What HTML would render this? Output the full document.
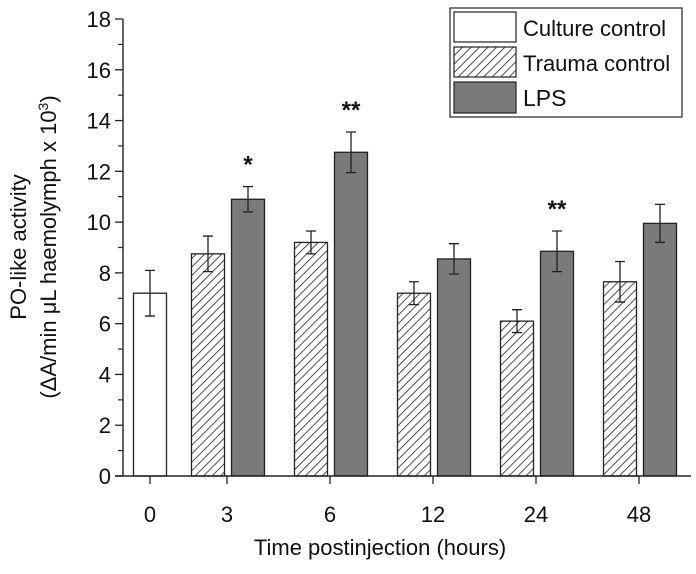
<!DOCTYPE html>
<html><head><meta charset="utf-8"><style>
body{margin:0;background:#fff}
svg text{font-family:"Liberation Sans",Arial,sans-serif;fill:#111}
</style></head><body>
<svg width="696" height="569" viewBox="0 0 696 569">
<defs>
<pattern id="hatch" patternUnits="userSpaceOnUse" width="6" height="6" patternTransform="rotate(45)">
<rect width="6" height="6" fill="#fff"/><line x1="0" y1="0" x2="0" y2="6" stroke="#222" stroke-width="1.6"/>
</pattern>
</defs>
<g id="plot"></g>
<g>
<rect x="450" y="8" width="232" height="109" fill="#fff" stroke="#222" stroke-width="1.2"/>
<g><rect x="454" y="12" width="62" height="30" fill="#fff" stroke="#222" stroke-width="1.2"/><text x="523" y="36" font-size="22">Culture control</text></g>
<g><rect x="454" y="47" width="62" height="30" fill="url(#hatch)" stroke="#222" stroke-width="1.2"/><text x="523" y="71" font-size="22">Trauma control</text></g>
<g><rect x="454" y="82" width="62" height="31" fill="#7a7a7a" stroke="#222" stroke-width="1.2"/><text x="523" y="106" font-size="23">LPS</text></g>
</g>
<text x="380" y="555" font-size="22" text-anchor="middle">Time postinjection (hours)</text>
<text transform="translate(26,247) rotate(-90)" font-size="22" text-anchor="middle">PO-like activity</text>
<text transform="translate(56,247) rotate(-90)" font-size="22" text-anchor="middle">(ΔA/min μL haemolymph x 10<tspan font-size="14" dy="-8">3</tspan><tspan dy="8">)</tspan></text>
</svg>
<script>
const categories=["0","3","6","12","24","48"];
const cultureValues=[7.2,null,null,null,null,null];
const cultureErrors=[0.9,null,null,null,null,null];
const traumaValues=[null,8.75,9.2,7.2,6.1,7.65];
const traumaErrors=[null,0.7,0.45,0.45,0.45,0.8];
const lpsValues=[null,10.9,12.75,8.55,8.85,9.95];
const lpsErrors=[null,0.5,0.8,0.6,0.8,0.75];
const lpsStars=["","*","**","","**",""];
const yTicks=[0,2,4,6,8,10,12,14,16,18];

const NS="http://www.w3.org/2000/svg";
const g=document.getElementById("plot");
const y0=476,yTop=19,yMax=18,axX=123;
const y=v=>y0-(v/yMax)*(y0-yTop);
const xc=i=>i===0?150:227+(i-1)*103;
function mk(t,a){const e=document.createElementNS(NS,t);for(const k in a)e.setAttribute(k,a[k]);g.appendChild(e);return e;}
const bw=33,gap=7;
function bar(x,v,err,fill,name){
  const r=mk("rect",{x:x,y:y(v),width:bw,height:y0-y(v),fill:fill,stroke:"#222","stroke-width":1.3});
  
  
  const cx=x+bw/2;
  const e=mk("path",{d:`M${cx} ${y(v-err)}V${y(v+err)}M${cx-5} ${y(v+err)}H${cx+5}M${cx-5} ${y(v-err)}H${cx+5}`,stroke:"#222","stroke-width":1.3,fill:"none"});
  
  
}
categories.forEach((c,i)=>{
  const cx=xc(i);
  if(cultureValues[i]!=null) bar(cx-16.5,cultureValues[i],cultureErrors[i],"#fff","bar-culture-"+c);
  if(traumaValues[i]!=null) bar(cx-gap/2-bw+1,traumaValues[i],traumaErrors[i],"url(#hatch)","bar-trauma-"+c);
  if(lpsValues[i]!=null){
    const lx=cx+gap/2+1;
    bar(lx,lpsValues[i],lpsErrors[i],"#7a7a7a","bar-lps-"+c);
    if(lpsStars[i]){const s=mk("text",{x:lx+bw/2,y:y(lpsValues[i]+lpsErrors[i])-14,"font-size":24,"text-anchor":"middle","font-weight":"bold"});s.textContent=lpsStars[i];
    
    }
  }
  const t=mk("line",{x1:cx,x2:cx,y1:y0,y2:y0+8,stroke:"#222","stroke-width":1.3});
  
  
  const l=mk("text",{x:cx,y:522,"font-size":22,"text-anchor":"middle"});l.textContent=c;
  
  
});
const ax=mk("path",{d:`M${axX} ${yTop}V${y0}M115 ${y0}H691`,stroke:"#222","stroke-width":1.4,fill:"none"});


yTicks.forEach((v,i)=>{
  const t=mk("line",{x1:axX-8,x2:axX,y1:y(v),y2:y(v),stroke:"#222","stroke-width":1.3});
  
  
  if(i<yTicks.length-1){const m=mk("line",{x1:axX-5,x2:axX,y1:y((v+yTicks[i+1])/2),y2:y((v+yTicks[i+1])/2),stroke:"#222","stroke-width":1.2});
  
  }
  const l=mk("text",{x:axX-12,y:y(v)+8,"font-size":22,"text-anchor":"end"});l.textContent=v;
  
  
});
</script>
</body></html>
